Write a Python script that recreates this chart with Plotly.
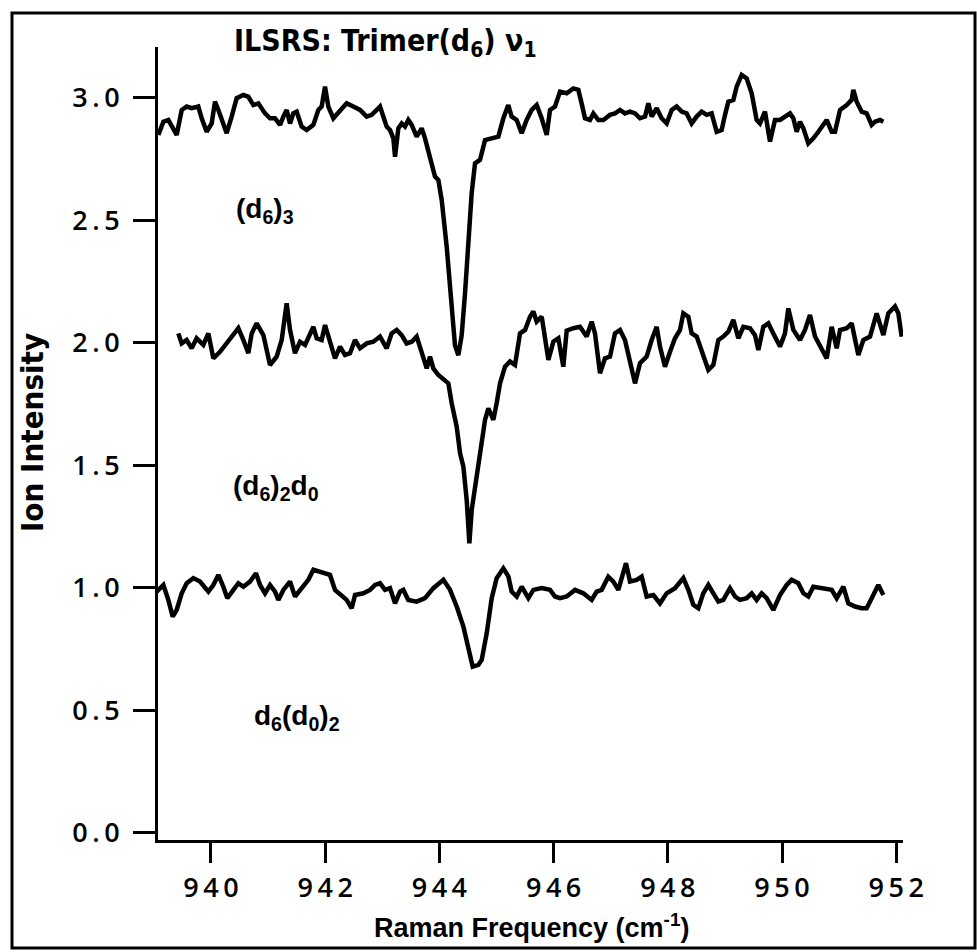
import plotly.graph_objects as go

# ---------------- data ----------------
top_x = [939.078, 939.166, 939.253, 939.311, 939.399, 939.487, 939.574, 939.662, 939.778, 939.837,
         939.924, 940.012, 940.070, 940.129, 940.187, 940.275, 940.362, 940.450, 940.566, 940.654,
         940.742, 940.829, 940.946, 941.034, 941.121, 941.209, 941.267, 941.325, 941.384, 941.442,
         941.501, 941.588, 941.676, 941.792, 941.880, 941.938, 941.997, 942.055, 942.143, 942.260,
         942.376, 942.493, 942.610, 942.727, 942.814, 942.902, 942.960, 943.018, 943.077, 943.135,
         943.194, 943.223, 943.281, 943.340, 943.398, 943.456, 943.515, 943.602, 943.690, 943.748,
         943.836, 943.923, 943.982, 944.040, 944.128, 944.215, 944.273, 944.332, 944.390, 944.449,
         944.507, 944.565, 944.624, 944.711, 944.799, 944.916, 945.032, 945.120, 945.207, 945.265,
         945.353, 945.441, 945.528, 945.616, 945.704, 945.791, 945.879, 945.937, 946.025,
         946.112, 946.229, 946.346, 946.433, 946.491, 946.550, 946.637, 946.696, 946.783, 946.871,
         946.988, 947.075, 947.163, 947.250, 947.338, 947.426, 947.513, 947.601, 947.659, 947.717,
         947.805, 947.892, 947.980, 948.068, 948.155, 948.243, 948.330, 948.418, 948.505, 948.593,
         948.681, 948.768, 948.856, 948.943, 949.002, 949.060, 949.148, 949.206, 949.294, 949.381,
         949.469, 949.556, 949.614, 949.702, 949.790, 949.877, 949.965, 950.052, 950.140, 950.198,
         950.257, 950.315, 950.374, 950.461, 950.549, 950.636, 950.724, 950.783, 950.870, 950.928,
         951.016, 951.133, 951.220, 951.249, 951.308, 951.395, 951.483, 951.570, 951.629, 951.716,
         951.775]
top_y = [2.849, 2.903, 2.910, 2.883, 2.849, 2.951, 2.965, 2.958, 2.965, 2.917,
         2.862, 2.896, 2.985, 2.951, 2.917, 2.856, 2.924, 2.999, 3.012, 3.005,
         2.971, 2.978, 2.937, 2.917, 2.917, 2.890, 2.924, 2.951, 2.896, 2.937,
         2.944, 2.883, 2.869, 2.890, 2.951, 2.965, 3.046, 2.965, 2.917, 2.951,
         2.978, 2.965, 2.951, 2.924, 2.931, 2.951, 2.965, 2.924, 2.883, 2.869,
         2.835, 2.760, 2.876, 2.896, 2.883, 2.910, 2.890, 2.842, 2.876, 2.835,
         2.760, 2.679, 2.665, 2.584, 2.393, 2.175, 1.990, 1.950, 2.030, 2.203,
         2.420, 2.611, 2.733, 2.747, 2.828, 2.835, 2.842, 2.917, 2.971, 2.924,
         2.910, 2.856, 2.910, 2.951, 2.971, 2.917, 2.849, 2.951, 2.965,
         3.026, 3.019, 3.039, 3.033, 2.978, 2.917, 2.910, 2.937, 2.910, 2.910,
         2.931, 2.937, 2.951, 2.937, 2.944, 2.937, 2.917, 2.924, 2.978, 2.924,
         2.958, 2.917, 2.896, 2.951, 2.965, 2.944, 2.937, 2.896, 2.924, 2.944,
         2.931, 2.937, 2.862, 2.869, 2.931, 2.985, 2.992, 3.046, 3.094, 3.080,
         3.019, 2.910, 2.896, 2.944, 2.822, 2.910, 2.910, 2.924, 2.937, 2.917,
         2.862, 2.903, 2.876, 2.815, 2.835, 2.862, 2.890, 2.910, 2.862, 2.862,
         2.951, 2.971, 2.992, 3.033, 2.985, 2.944, 2.937, 2.890, 2.903, 2.910,
         2.903]

mid_x = [939.428, 939.487, 939.574, 939.662, 939.749, 939.866, 939.954, 940.041, 940.158, 940.275,
         940.362, 940.479, 940.567, 940.654, 940.713, 940.800, 940.917, 941.034, 941.150, 941.238,
         941.325, 941.384, 941.471, 941.559, 941.647, 941.734, 941.793, 941.851, 941.938, 941.997,
         942.084, 942.172, 942.260, 942.347, 942.435, 942.522, 942.610, 942.727, 942.843, 942.960,
         943.077, 943.164, 943.252, 943.339, 943.427, 943.515, 943.602, 943.690, 943.778, 943.836,
         943.894, 943.982, 944.070, 944.157, 944.215, 944.303, 944.362, 944.420, 944.478, 944.525,
         944.566, 944.624, 944.711, 944.799, 944.857, 944.945, 945.003, 945.062, 945.149, 945.237,
         945.324, 945.412, 945.500, 945.587, 945.646, 945.704, 945.792, 945.850, 945.909, 945.996,
         946.084,
         946.170, 946.229, 946.346, 946.462, 946.579, 946.667, 946.725, 946.813, 946.900, 946.988,
         947.075, 947.163, 947.250, 947.338, 947.426, 947.513, 947.630, 947.717, 947.805, 947.863,
         947.951, 948.039, 948.126, 948.214, 948.272, 948.360, 948.418, 948.506, 948.593, 948.710,
         948.798, 948.885, 948.972, 949.060, 949.148, 949.235, 949.323, 949.440, 949.527, 949.586,
         949.673, 949.761, 949.848, 949.965, 950.052, 950.111, 950.199, 950.315, 950.403, 950.490,
         950.578, 950.665, 950.783, 950.870, 950.958, 951.016, 951.133, 951.220, 951.337, 951.424,
         951.541, 951.658, 951.775, 951.862, 951.979, 952.037, 952.096]
mid_y = [2.039, 1.998, 2.012, 1.978, 2.019, 1.992, 2.039, 1.937, 1.964, 1.998,
         2.019, 2.060, 2.012, 1.958, 2.039, 2.080, 2.032, 1.910, 1.944, 2.012,
         2.162, 2.053, 1.958, 2.005, 1.992, 2.039, 2.066, 2.019, 2.012, 2.073,
         2.005, 1.937, 1.985, 1.951, 1.958, 2.012, 1.978, 1.998, 2.005, 2.026,
         1.978, 2.039, 2.053, 2.032, 1.998, 2.005, 2.026, 1.964, 1.896, 1.944,
         1.896, 1.869, 1.849, 1.835, 1.754, 1.658, 1.550, 1.495, 1.359, 1.182,
         1.318, 1.413, 1.536, 1.686, 1.733, 1.686, 1.754, 1.835, 1.903, 1.924,
         1.910, 2.039, 2.053, 2.107, 2.128, 2.087, 2.107, 2.019, 1.931, 2.005,
         2.019,
         1.903, 2.050, 2.060, 2.066, 2.026, 2.087, 2.039, 1.876, 1.937, 1.944,
         2.039, 2.053, 2.012, 1.917, 1.835, 1.917, 1.944, 2.012, 2.066, 1.985,
         1.903, 1.964, 2.019, 2.053, 2.121, 2.107, 2.039, 2.026, 1.964, 1.890,
         1.910, 2.012, 2.026, 2.046, 2.094, 2.019, 2.066, 2.060, 2.032, 1.971,
         2.066, 2.080, 2.039, 1.985, 2.039, 2.141, 2.053, 2.012, 2.053, 2.114,
         2.026, 1.985, 1.937, 2.066, 1.978, 2.053, 2.060, 2.080, 1.951, 2.012,
         2.026, 2.121, 2.032, 2.121, 2.149, 2.121, 2.026]

bot_x = [939.049, 939.166, 939.253, 939.329, 939.399, 939.487, 939.574, 939.691, 939.808, 939.954,
         940.041, 940.129, 940.216, 940.286, 940.392, 940.479, 940.567, 940.683, 940.788, 940.859,
         940.946, 941.034, 941.121, 941.180, 941.267, 941.384, 941.471, 941.588, 941.705, 941.793,
         941.880, 941.968, 942.084, 942.172, 942.289, 942.376, 942.464, 942.522, 942.668, 942.785,
         942.873, 942.960, 943.048, 943.135, 943.223, 943.310, 943.369, 943.456, 943.602, 943.748,
         943.894, 944.070, 944.186, 944.303, 944.420, 944.507, 944.583, 944.683, 944.741, 944.829,
         944.916, 945.003, 945.120, 945.208, 945.266, 945.354, 945.441, 945.558, 945.646, 945.792,
         945.937, 946.025,
         946.112, 946.229, 946.375, 946.521, 946.667, 946.754, 946.842, 946.958, 947.046, 947.134,
         947.221, 947.268, 947.338, 947.455, 947.542, 947.630, 947.747, 947.863, 947.980, 948.126,
         948.272, 948.360, 948.447, 948.535, 948.622, 948.710, 948.798, 948.885, 948.972, 949.089,
         949.177, 949.264, 949.381, 949.469, 949.556, 949.644, 949.731, 949.848, 949.965, 950.082,
         950.169, 950.286, 950.374, 950.461, 950.549, 950.724, 950.870, 950.958, 951.074, 951.162,
         951.279, 951.395, 951.483, 951.599, 951.687, 951.775]
bot_y = [0.985, 1.012, 0.951, 0.883, 0.910, 0.978, 1.019, 1.040, 1.026, 0.985,
         1.012, 1.053, 1.005, 0.958, 0.992, 1.019, 1.005, 1.026, 1.060, 1.012,
         0.978, 1.012, 0.985, 0.951, 0.992, 1.026, 0.965, 0.999, 1.033, 1.074,
         1.067, 1.060, 1.053, 0.992, 0.965, 0.951, 0.917, 0.971, 0.978, 0.992,
         1.012, 1.019, 0.992, 0.999, 0.937, 0.985, 0.992, 0.951, 0.944, 0.958,
         0.999, 1.033, 0.992, 0.924, 0.842, 0.747, 0.679, 0.686, 0.706, 0.815,
         0.958, 1.040, 1.080, 1.047, 0.985, 0.965, 1.005, 0.958, 0.992, 0.999,
         0.992, 0.965,
         0.958, 0.965, 0.992, 0.978, 0.951, 0.985, 0.992, 1.046, 1.026, 0.992,
         1.074, 1.101, 1.026, 1.033, 1.046, 0.965, 0.971, 0.937, 0.978, 0.999,
         1.040, 0.992, 0.931, 0.917, 0.978, 1.012, 0.978, 0.944, 0.951, 0.999,
         0.965, 0.951, 0.958, 0.978, 0.951, 0.978, 0.958, 0.910, 0.971, 1.012,
         1.033, 1.019, 0.978, 0.965, 1.005, 0.999, 0.992, 0.958, 1.005, 0.937,
         0.924, 0.917, 0.917, 0.971, 1.012, 0.971]

x_ticks = [940, 942, 944, 946, 948, 950, 952]
y_ticks = [0.0, 0.5, 1.0, 1.5, 2.0, 2.5, 3.0]

labels = ["(d<sub>6</sub>)<sub>3</sub>", "(d<sub>6</sub>)<sub>2</sub>d<sub>0</sub>", "d<sub>6</sub>(d<sub>0</sub>)<sub>2</sub>"]
label_x = [940.95, 941.14, 941.51]
label_y = [2.54, 1.41, 0.47]

title_text = "ILSRS: Trimer(d<sub>6</sub>) ν<sub>1</sub>"
x_title = "Raman Frequency (cm<sup>-1</sup>)"
y_title = "Ion Intensity"

TS = "\u2009"  # thin space used to mimic the wide letter spacing of the print


def spaced(s):
    return TS.join(list(s))


# ---------------- figure ----------------
fig = go.Figure()
for xs, ys in [(top_x, top_y), (mid_x, mid_y), (bot_x, bot_y)]:
    fig.add_trace(go.Scatter(x=xs, y=ys, mode="lines",
                             line=dict(color="black", width=4.5),
                             showlegend=False, hoverinfo="skip"))

W, H = 977, 952
L, R, T, B = 158, 74, 47, 112
PW, PH = W - L - R, H - T - B


def px(xp):
    return (xp - L) / PW


def py(yp):
    return (H - B - yp) / PH


tick_font = dict(family="Open Sans, Liberation Sans, Arial", size=27, color="black", weight=600)
cond_font = "Liberation Sans Narrow, DejaVu Sans Condensed, Roboto Condensed, Liberation Sans, Arial"

fig.update_layout(
    width=W, height=H,
    margin=dict(l=L, r=R, t=T, b=B, pad=0),
    paper_bgcolor="white", plot_bgcolor="white",
    xaxis=dict(range=[939.072, 952.119], tickvals=x_ticks,
               ticktext=[spaced(str(v)) for v in x_ticks],
               showline=True, linecolor="black", linewidth=3,
               ticks="outside", ticklen=20, tickwidth=3, tickcolor="black",
               showgrid=False, zeroline=False, tickfont=tick_font,
               ticklabelstandoff=2),
    yaxis=dict(range=[-0.029, 3.208], tickvals=y_ticks,
               ticktext=[spaced(f"{v:.1f}") for v in y_ticks],
               showline=True, linecolor="black", linewidth=3,
               ticks="outside", ticklen=22, tickwidth=3, tickcolor="black",
               showgrid=False, zeroline=False, tickfont=tick_font,
               ticklabelstandoff=8),
)

annotations = [
    dict(text=title_text, x=px(385), y=py(42), xref="paper", yref="paper",
         showarrow=False, xanchor="center", yanchor="middle",
         font=dict(family=cond_font, size=30, color="black", weight="bold")),
    dict(text=y_title, x=px(32), y=py(432), xref="paper", yref="paper",
         showarrow=False, xanchor="center", yanchor="middle", textangle=-90,
         font=dict(family=cond_font, size=31, color="black", weight="bold")),
    dict(text=x_title, x=px(531), y=py(926), xref="paper", yref="paper",
         showarrow=False, xanchor="center", yanchor="middle",
         font=dict(family="Liberation Sans, Arial", size=27, color="black", weight="bold")),
]
for t, lx, ly in zip(labels, label_x, label_y):
    annotations.append(dict(text=t, x=lx, y=ly, xref="x", yref="y", showarrow=False,
                            xanchor="center", yanchor="middle",
                            font=dict(family="Liberation Sans, Arial", size=28,
                                      color="black", weight="bold")))
fig.update_layout(annotations=annotations)

# outer frame of the printed figure
fig.add_shape(type="rect", xref="paper", yref="paper",
              x0=px(12), x1=px(975), y0=py(948), y1=py(13),
              line=dict(color="black", width=3), fillcolor="rgba(0,0,0,0)", layer="above")

fig.write_html("out.html", config={"displayModeBar": False},
               post_script="document.body.style.margin='0';document.body.style.overflow='hidden';")
